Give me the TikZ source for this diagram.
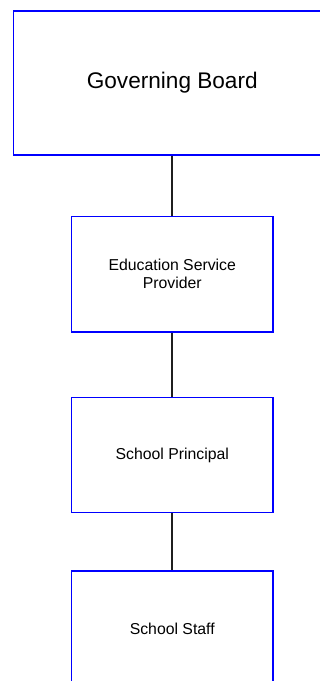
\documentclass[tikz,border=0pt]{standalone}
\usepackage{fontspec}
\setmainfont{Liberation Sans}
\begin{document}
\begin{tikzpicture}[x=1pt,y=1pt,
  orgbox/.style={draw=blue, line width=1.8pt, fill=white, inner sep=0pt, align=center},
  link/.style={draw=black!88, line width=1.7pt}]
\useasboundingbox (0,0) rectangle (320,681);
% Governing board (extends beyond right edge)
\node[orgbox, minimum width=317.5pt, minimum height=144pt, font=\fontsize{22.6}{26}\selectfont] (gb) at (172.25,598) {Governing Board};
\node[orgbox, minimum width=201.5pt, minimum height=115.5pt, font=\fontsize{15.8}{18}\selectfont] (esp) at (172.25,406.75) {Education Service\\Provider};
\node[orgbox, minimum width=201.5pt, minimum height=115pt, font=\fontsize{15.8}{18}\selectfont] (sp) at (172.25,226) {School Principal};
\node[orgbox, minimum width=201.5pt, minimum height=115pt, font=\fontsize{15.8}{18}\selectfont] (ss) at (172.25,52.5) {School Staff};
\draw[link] (gb.south) -- (esp.north);
\draw[link] (esp.south) -- (sp.north);
\draw[link] (sp.south) -- (ss.north);
\end{tikzpicture}
\end{document}
